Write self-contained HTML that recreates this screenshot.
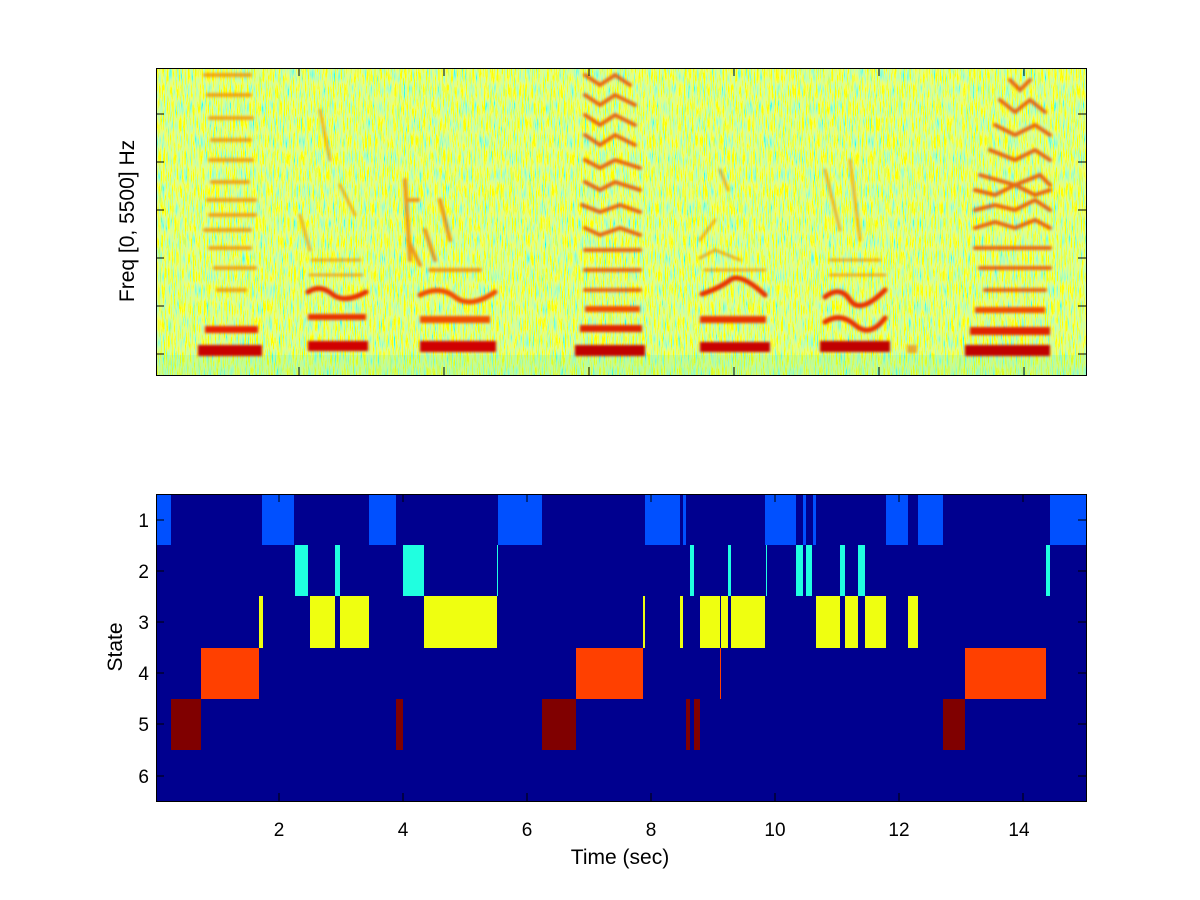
<!DOCTYPE html>
<html><head><meta charset="utf-8"><style>
body{margin:0;background:#fff;}
svg{display:block;font-family:"Liberation Sans",sans-serif;}
</style></head><body>
<svg width="1200" height="900" viewBox="0 0 1200 900" xmlns="http://www.w3.org/2000/svg">
<defs>
<filter id="noise" x="0" y="0" width="100%" height="100%">
<feTurbulence type="fractalNoise" baseFrequency="0.9 0.06" numOctaves="2" seed="3" result="t"/>
<feColorMatrix in="t" type="matrix" values="2.4 0 0 0 -0.45  0 0 0 0 1  -2.0 0 0 0 1.25  0 0 0 0 1"/>
</filter>
<filter id="bl"><feGaussianBlur stdDeviation="1.2"/></filter>
<clipPath id="c1"><rect x="156" y="68" width="930" height="307"/></clipPath>
</defs>
<g clip-path="url(#c1)">
<rect x="156" y="68" width="930" height="307" fill="#b0f060"/>
<rect x="156" y="68" width="930" height="307" filter="url(#noise)"/>
<rect x="156" y="355" width="930" height="20" fill="#60f0b0" opacity="0.2"/>
<g filter="url(#bl)" stroke-linecap="round" fill="none">
<g stroke="#f09000" stroke-width="4" opacity="0.8">
<path d="M205 75 H250 M208 95 H250 M210 118 H252 M212 140 H250 M210 160 H252 M212 182 H248 M208 200 H255 M210 215 H255 M205 230 H250 M210 248 H250 M215 268 H255 M218 290 H245"/>
</g>
<rect x="205" y="326" width="53" height="7" fill="#e82000"/>
<rect x="198" y="345" width="64" height="11" fill="#c80000"/>
<g stroke="#f09000" stroke-width="3" opacity="0.7"><path d="M300 215 L310 250 M320 110 L330 160 M340 185 L355 215 M312 260 H360 M310 275 H362"/></g>
<path d="M308 292 Q320 284 332 294 T366 292" stroke="#e83000" stroke-width="5"/>
<rect x="308" y="314" width="58" height="6" fill="#e83000"/>
<rect x="308" y="341" width="60" height="10" fill="#d00000"/>
<g stroke="#f08000" stroke-width="4" opacity="0.8"><path d="M405 180 L410 260 M410 200 H418 M408 240 L420 265 M425 230 L435 260 M440 200 L450 240 M430 270 H480"/></g>
<path d="M420 295 Q440 285 455 297 T495 292" stroke="#f05000" stroke-width="5"/>
<rect x="420" y="316" width="70" height="7" fill="#f05000"/>
<rect x="420" y="341" width="76" height="11" fill="#d00000"/>
<g stroke="#e85000" stroke-width="4" opacity="0.85">
<path d="M585 75 L600 85 L615 75 L630 85 M585 95 L600 105 L615 95 L635 105 M585 115 L600 125 L615 115 L635 125 M585 135 L600 145 L615 135 L635 145 M585 160 L600 168 L615 160 L640 168 M585 182 L600 190 L615 182 L640 190 M582 205 L600 212 L620 205 L640 212 M585 228 L600 235 L620 228 L640 235 M585 250 H640 M585 270 H640 M585 290 H640"/>
</g>
<rect x="585" y="306" width="55" height="6" fill="#f05000"/>
<rect x="580" y="325" width="62" height="7" fill="#e02000"/>
<rect x="575" y="345" width="70" height="11" fill="#c00000"/>
<g stroke="#f09000" stroke-width="3" opacity="0.7"><path d="M700 240 L715 220 M720 170 L728 190 M705 270 H765 M700 258 L715 250 L740 260"/></g>
<path d="M702 294 Q720 288 730 280 T765 295" stroke="#e83000" stroke-width="5"/>
<rect x="700" y="316" width="66" height="7" fill="#e83000"/>
<rect x="700" y="342" width="70" height="10" fill="#c80000"/>
<g stroke="#f09000" stroke-width="3" opacity="0.7"><path d="M825 170 L840 230 M850 160 L860 240 M830 260 H880 M830 275 H885"/></g>
<path d="M825 297 Q840 285 850 300 T885 290" stroke="#e83000" stroke-width="5"/>
<path d="M825 322 Q840 312 855 325 T885 318" stroke="#e83000" stroke-width="5"/>
<rect x="820" y="341" width="70" height="11" fill="#c00000"/>
<rect x="907" y="345" width="10" height="8" fill="#f07000" opacity="0.6"/>
<g stroke="#e85000" stroke-width="4" opacity="0.85">
<path d="M1010 80 L1020 90 L1030 80 M1000 100 L1015 112 L1030 100 L1045 112 M995 125 L1015 135 L1035 125 L1050 135 M990 150 L1015 160 L1035 150 L1050 160 M980 175 L1015 185 L1040 175 L1050 185 M975 190 L995 195 L1015 185 L1035 195 L1050 190 M975 210 L995 205 L1015 210 L1035 200 L1050 210 M975 228 L995 222 L1015 228 L1035 220 L1050 228 M975 248 H1050 M980 268 H1050 M985 290 H1045"/>
</g>
<rect x="975" y="307" width="70" height="6" fill="#f05000"/>
<rect x="970" y="327" width="80" height="8" fill="#e02000"/>
<rect x="965" y="345" width="85" height="11" fill="#c00000"/>
</g>
</g>
<rect x="156.5" y="68.5" width="930" height="307" fill="none" stroke="#000"/>
<g stroke="#000">
<path d="M156 114h8M156 162h8M156 210h8M156 258h8M156 306h8M156 354h8M1086 114h-8M1086 162h-8M1086 210h-8M1086 258h-8M1086 306h-8M1086 354h-8"/>
<path d="M299 375v-8M444 375v-8M589 375v-8M734 375v-8M879 375v-8M1024 375v-8M299 68v8M444 68v8M589 68v8M734 68v8M879 68v8M1024 68v8"/>
</g>
<text transform="translate(134,221) rotate(-90)" text-anchor="middle" font-size="21">Freq [0, 5500] Hz</text>

<rect x="156" y="494" width="930" height="307" fill="#00008f"/>
<g fill="#0050ff">
<rect x="156" y="494" width="15" height="51"/><rect x="262" y="494" width="32" height="51"/><rect x="369" y="494" width="27" height="51"/><rect x="498" y="494" width="44" height="51"/><rect x="645" y="494" width="35" height="51"/><rect x="683" y="494" width="3" height="51"/><rect x="765" y="494" width="31" height="51"/><rect x="803" y="494" width="3" height="51"/><rect x="813" y="494" width="3" height="51"/><rect x="886" y="494" width="22" height="51"/><rect x="918" y="494" width="25" height="51"/><rect x="1050" y="494" width="36" height="51"/>
</g>
<g fill="#20ffe0">
<rect x="295" y="545" width="13" height="51"/><rect x="335" y="545" width="5" height="51"/><rect x="403" y="545" width="21" height="51"/><rect x="497" y="545" width="1" height="51"/><rect x="690" y="545" width="4" height="51"/><rect x="728" y="545" width="3" height="51"/><rect x="766" y="545" width="1" height="51"/><rect x="796" y="545" width="7" height="51"/><rect x="806" y="545" width="6" height="51"/><rect x="840" y="545" width="5" height="51"/><rect x="858" y="545" width="7" height="51"/><rect x="1046" y="545" width="4" height="51"/>
</g>
<g fill="#efff10">
<rect x="259" y="596" width="4" height="52"/><rect x="310" y="596" width="25" height="52"/><rect x="340" y="596" width="29" height="52"/><rect x="424" y="596" width="73" height="52"/><rect x="643" y="596" width="2" height="52"/><rect x="680" y="596" width="3" height="52"/><rect x="700" y="596" width="20" height="52"/><rect x="721" y="596" width="7" height="52"/><rect x="731" y="596" width="34" height="52"/><rect x="816" y="596" width="24" height="52"/><rect x="845" y="596" width="13" height="52"/><rect x="865" y="596" width="21" height="52"/><rect x="908" y="596" width="10" height="52"/>
</g>
<g fill="#ff4000">
<rect x="201" y="648" width="58" height="51"/><rect x="576" y="648" width="67" height="51"/><rect x="720" y="648" width="1" height="51"/><rect x="965" y="648" width="81" height="51"/>
</g>
<g fill="#800000">
<rect x="171" y="699" width="30" height="51"/><rect x="396" y="699" width="7" height="51"/><rect x="542" y="699" width="34" height="51"/><rect x="686" y="699" width="4" height="51"/><rect x="694" y="699" width="6" height="51"/><rect x="943" y="699" width="22" height="51"/>
</g>
<rect x="156.5" y="494.5" width="930" height="307" fill="none" stroke="#000"/>
<g stroke="#000">
<path d="M156 520h8M156 571h8M156 622h8M156 673h8M156 724h8M156 776h8M1086 520h-8M1086 571h-8M1086 622h-8M1086 673h-8M1086 724h-8M1086 776h-8"/>
<path d="M279 801v-8M403 801v-8M527 801v-8M651 801v-8M775 801v-8M899 801v-8M1023 801v-8M279 494v8M403 494v8M527 494v8M651 494v8M775 494v8M899 494v8M1023 494v8"/>
</g>
<g font-size="19" text-anchor="end">
<text x="149" y="527">1</text><text x="149" y="578">2</text><text x="149" y="629">3</text><text x="149" y="680">4</text><text x="149" y="731">5</text><text x="149" y="783">6</text>
</g>
<g font-size="19" text-anchor="middle">
<text x="279" y="836">2</text><text x="403" y="836">4</text><text x="527" y="836">6</text><text x="651" y="836">8</text><text x="775" y="836">10</text><text x="899" y="836">12</text><text x="1019" y="836">14</text>
</g>
<text x="620" y="864" font-size="21" text-anchor="middle">Time (sec)</text>
<text transform="translate(122,647) rotate(-90)" text-anchor="middle" font-size="21">State</text>
</svg>
</body></html>
